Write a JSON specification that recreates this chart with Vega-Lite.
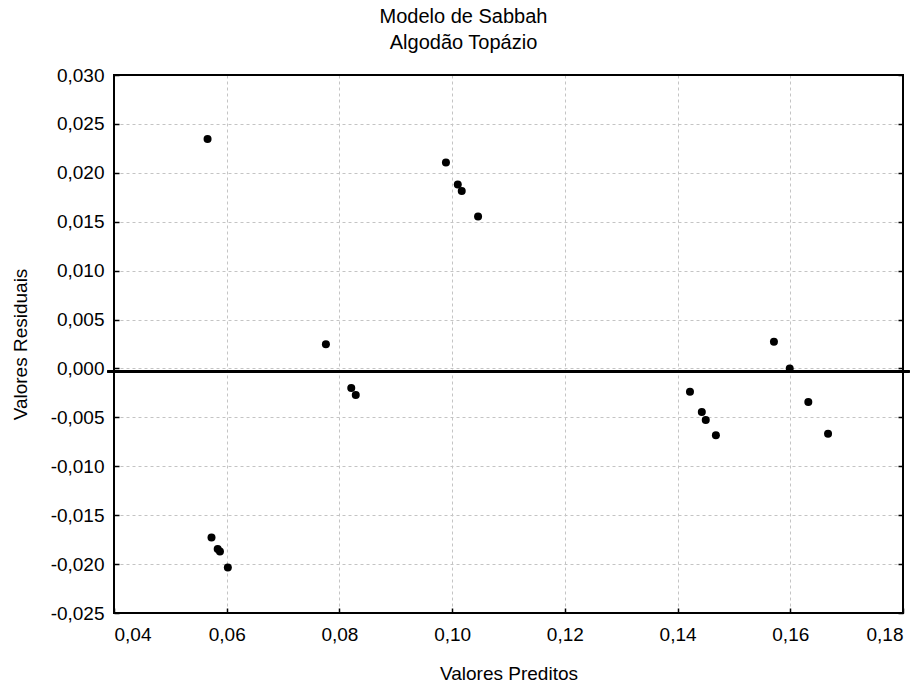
{
  "$schema": "https://vega.github.io/schema/vega-lite/v6.json",
  "width": 789,
  "height": 538,
  "autosize": "none",
  "padding": {"left": 114, "top": 75, "right": 21, "bottom": 73},
  "background": "white",
  "config": {
    "locale": {"number": {"decimal": ",", "thousands": ".", "grouping": [3], "currency": ["", ""], "minus": "-"}},
    "view": {"stroke": null},
    "font": "Liberation Sans"
  },
  "title": {
    "text": ["Modelo de Sabbah", "Algodão Topázio"],
    "fontSize": 20,
    "fontWeight": "normal",
    "color": "black",
    "anchor": "middle",
    "dx": -45,
    "offset": 13,
    "lineHeight": 26
  },
  "data": {
    "values": [
      {"predito": 0.0566, "residuo": 0.02346},
      {"predito": 0.0989, "residuo": 0.02105},
      {"predito": 0.1010, "residuo": 0.01881},
      {"predito": 0.1017, "residuo": 0.01813},
      {"predito": 0.1046, "residuo": 0.01553},
      {"predito": 0.0776, "residuo": 0.00247},
      {"predito": 0.0821, "residuo": -0.0020},
      {"predito": 0.0829, "residuo": -0.00271},
      {"predito": 0.0573, "residuo": -0.01729},
      {"predito": 0.0584, "residuo": -0.01847},
      {"predito": 0.0588, "residuo": -0.01871},
      {"predito": 0.0602, "residuo": -0.02034},
      {"predito": 0.1422, "residuo": -0.00237},
      {"predito": 0.1443, "residuo": -0.00444},
      {"predito": 0.1450, "residuo": -0.00526},
      {"predito": 0.1468, "residuo": -0.00684},
      {"predito": 0.1571, "residuo": 0.00272},
      {"predito": 0.1599, "residuo": 0.0000},
      {"predito": 0.1632, "residuo": -0.00342},
      {"predito": 0.1667, "residuo": -0.00668}
    ]
  },
  "layer": [
    {
      "mark": {"type": "circle", "color": "black", "opacity": 1, "size": 64},
      "encoding": {
        "x": {
          "field": "predito",
          "type": "quantitative",
          "scale": {"domain": [0.04, 0.18], "nice": false, "zero": false},
          "axis": {
            "title": "Valores Preditos",
            "titleFontSize": 19,
            "titleFontWeight": "normal",
            "titleColor": "black",
            "titlePadding": 20,
            "values": [0.04, 0.06, 0.08, 0.1, 0.12, 0.14, 0.16, 0.18],
            "format": ".2f",
            "labelFontSize": 19,
            "labelColor": "black",
            "tickSize": -5,
            "tickColor": "black",
            "tickWidth": 1.5,
            "labelPadding": 17,
            "domain": false,
            "grid": true,
            "gridDash": [3, 3],
            "gridColor": "#c4c4c4"
          }
        },
        "y": {
          "field": "residuo",
          "type": "quantitative",
          "scale": {"domain": [-0.025, 0.03], "nice": false, "zero": false},
          "axis": {
            "orient": "left",
            "title": "Valores Residuais",
            "titleFontSize": 19,
            "titleFontWeight": "normal",
            "titleColor": "black",
            "titlePadding": 20,
            "values": [-0.025, -0.02, -0.015, -0.01, -0.005, 0, 0.005, 0.01, 0.015, 0.02, 0.025, 0.03],
            "format": ".3f",
            "labelFontSize": 19,
            "labelColor": "black",
            "tickSize": -5,
            "tickColor": "black",
            "tickWidth": 1.5,
            "labelPadding": 15,
            "domain": false,
            "grid": true,
            "gridDash": [3, 3],
            "gridColor": "#c4c4c4"
          }
        }
      }
    },
    {
      "mark": {"type": "point", "opacity": 0},
      "encoding": {
        "y": {
          "field": "residuo",
          "type": "quantitative",
          "axis": {
            "orient": "right",
            "title": null,
            "labels": false,
            "values": [-0.025, -0.02, -0.015, -0.01, -0.005, 0, 0.005, 0.01, 0.015, 0.02, 0.025, 0.03],
            "tickSize": -5,
            "tickColor": "black",
            "tickWidth": 1.5,
            "domain": false,
            "grid": false
          }
        }
      }
    },
    {
      "mark": {"type": "rule", "color": "black", "strokeWidth": 2, "clip": false},
      "encoding": {
        "x": {"datum": 0.0389, "type": "quantitative"},
        "x2": {"datum": 0.1811},
        "y": {"datum": -0.0003, "type": "quantitative", "axis": null}
      }
    },
    {
      "mark": {"type": "rect", "filled": false, "fill": null, "stroke": "black", "strokeWidth": 2},
      "encoding": {
        "x": {"datum": 0.04, "type": "quantitative"},
        "x2": {"datum": 0.18},
        "y": {"datum": -0.025, "type": "quantitative", "axis": null},
        "y2": {"datum": 0.03}
      }
    }
  ],
  "resolve": {"axis": {"y": "independent"}}
}
